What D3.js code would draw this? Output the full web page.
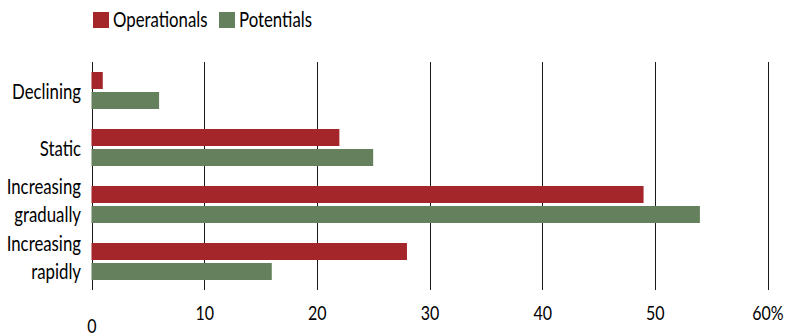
<!DOCTYPE html>
<html>
<head>
<meta charset="utf-8">
<script src="https://cdn.jsdelivr.net/npm/d3@7"></script>
<style>
  html, body { margin: 0; padding: 0; background: #fff; }
  svg { display: block; }
  text { font-family: Lato, "Open Sans", sans-serif; fill: #000; }
</style>
</head>
<body>
<svg id="chart" width="790" height="336"></svg>
<script>
// Trend categories (top to bottom) and the two series, in percent
const categories = ["Declining", "Static", "Increasing gradually", "Increasing rapidly"];
const categoryLines = [["Declining"], ["Static"], ["Increasing", "gradually"], ["Increasing", "rapidly"]];
const seriesNames = ["Operationals", "Potentials"];
const operationals = [1, 22, 49, 28];
const potentials = [6, 25, 54, 16];
const tickValues = [0, 10, 20, 30, 40, 50, 60];
const seriesColors = ["#A5262A", "#65805D"];

// Condensed lettering: horizontal squeeze applied to every text
const squeeze = 0.8;

const svg = d3.select("#chart");
const plot = { left: 91.5, right: 767.5, top: 62, bottom: 290 };

const x = d3.scaleLinear().domain([0, 60]).range([plot.left, plot.right]);
const y = d3.scaleBand().domain(categories).range([plot.top, plot.bottom]).padding(0);
const ySub = d3.scaleBand().domain(seriesNames).range([10, 47]).paddingInner(0.15);

// Vertical gridlines with tick labels below
const axis = d3.axisBottom(x)
  .tickValues(tickValues)
  .tickSize(-(plot.bottom - plot.top))
  .tickPadding(15)
  .tickFormat(d => d === 60 ? "60%" : String(d));

const gAxis = svg.append("g")
  .attr("transform", `translate(0,${plot.bottom})`)
  .call(axis);
gAxis.select(".domain").remove();
gAxis.selectAll(".tick line").attr("stroke", "#1a1a1a").attr("stroke-width", 1).attr("shape-rendering", "crispEdges");
gAxis.selectAll(".tick text")
  .attr("font-size", 20)
  .attr("fill", "#000")
  .style("font-family", "Lato, 'Open Sans', sans-serif")
  .attr("transform", `scale(${squeeze},1)`)
  .attr("dy", d => d === 0 ? "1.4em" : "0.75em");

// Bars
const rows = categories.map((c, i) => ({ cat: c, values: [operationals[i], potentials[i]] }));
const groups = svg.append("g").selectAll("g")
  .data(rows)
  .join("g")
  .attr("transform", d => `translate(0,${y(d.cat)})`);

groups.selectAll("rect")
  .data(d => d.values.map((v, j) => ({ series: seriesNames[j], value: v, j })))
  .join("rect")
  .attr("x", x(0))
  .attr("y", d => ySub(d.series))
  .attr("width", d => x(d.value) - x(0))
  .attr("height", ySub.bandwidth())
  .attr("fill", d => seriesColors[d.j]);

// Category labels, right-aligned left of the axis
const labels = svg.append("g").selectAll("text")
  .data(categories)
  .join("text")
  .attr("text-anchor", "end")
  .attr("font-size", 21)
  .attr("transform", d => `translate(81,${y(d) + y.bandwidth() / 2}) scale(${squeeze},1)`);

labels.each(function(d, i) {
  const lines = categoryLines[i];
  const t = d3.select(this);
  if (lines.length === 1) {
    t.append("tspan").attr("x", 0).attr("dy", "0.4em").text(lines[0]);
  } else {
    t.append("tspan").attr("x", 0).attr("dy", "-0.52em").text(lines[0]);
    t.append("tspan").attr("x", 0).attr("dy", "1.33em").text(lines[1]);
  }
});

// Legend
const legend = svg.append("g").attr("transform", "translate(93,12)");
const legendX = [0, 126];
seriesNames.forEach((name, i) => {
  const g = legend.append("g").attr("transform", `translate(${legendX[i]},0)`);
  g.append("rect").attr("width", 16).attr("height", 16).attr("fill", seriesColors[i]);
  g.append("text")
    .attr("transform", `translate(20,15) scale(${squeeze},1)`)
    .attr("font-size", 21)
    .text(name);
});
</script>
</body>
</html>
